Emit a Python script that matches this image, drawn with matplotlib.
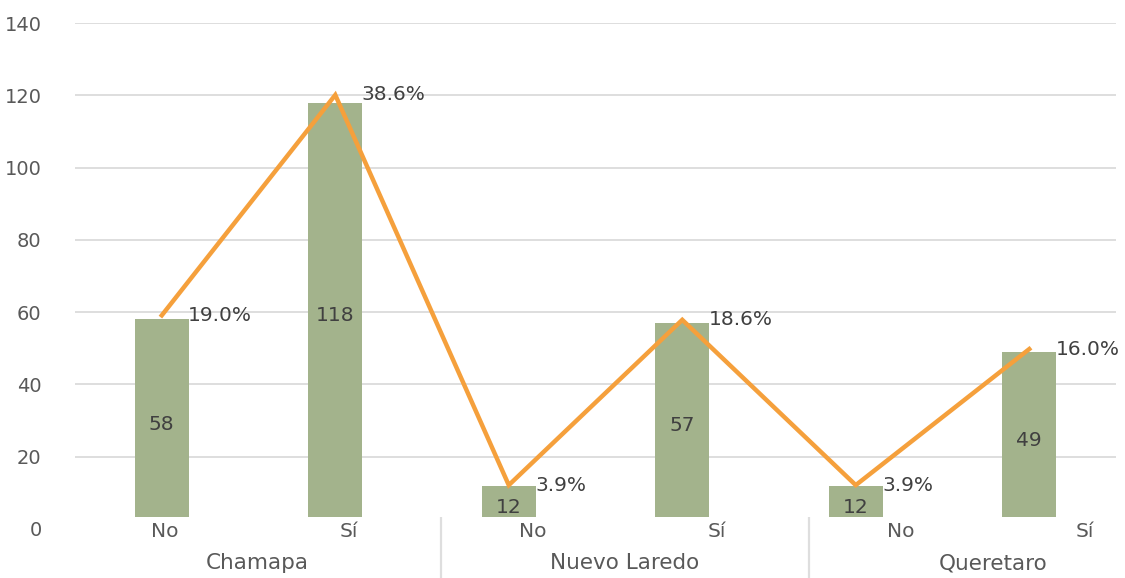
import matplotlib
matplotlib.use("Agg")
import matplotlib.pyplot as plt
import numpy as np

# counts per answer and share of total, grouped by site
groups = ["Chamapa", "Nuevo Laredo", "Queretaro"]
answers = ["No", "Sí", "No", "Sí", "No", "Sí"]
counts = [58, 118, 12, 57, 12, 49]
shares = [19.0, 38.6, 3.9, 18.6, 3.9, 16.0]

bar_color = "#A3B38C"
line_color = "#F5A03C"
text_gray = "#595959"
grid_gray = "#DEDEDE"

plt.rcParams.update({
    "font.family": ["DejaVu Sans"],
    "font.size": 12,
})

fig = plt.figure(figsize=(11.25, 5.78), dpi=100)

ax = fig.add_axes([0.0667, 0.0848, 0.9253, 0.8754])
x = np.arange(len(counts))

bars = ax.bar(x, counts, width=0.31, color=bar_color, zorder=2)
ax.set_xlim(-0.5, len(counts) - 0.5)
ax.set_ylim(0, 140)
ax.set_yticks(np.arange(0, 141, 20))
ax.tick_params(axis="y", length=0, labelsize=14, labelcolor=text_gray, pad=24)
ax.tick_params(axis="x", length=0, labelbottom=False)
ax.grid(axis="y", color=grid_gray, linewidth=1.4, zorder=0)
ax.set_axisbelow(True)
for s in ax.spines.values():
    s.set_visible(False)

for b, c in zip(bars, counts):
    ax.text(b.get_x() + b.get_width() / 2, c / 2, str(c), ha="center", va="center",
            fontsize=14.5, color="#404040", zorder=3)

# percentages on a hidden secondary scale
ax2 = ax.twinx()
ax2.set_ylim(0, 45)
ax2.plot(x, shares, color=line_color, linewidth=3.2, solid_joinstyle="miter", zorder=4)
ax2.set_yticks([])
for s in ax2.spines.values():
    s.set_visible(False)
for xi, p in zip(x, shares):
    ax2.annotate(f"{p:.1f}%", (xi, p), xytext=(19, 0), textcoords="offset points",
                 ha="left", va="center", fontsize=14.5, color="#404040")

# category strip below the plot
lab = fig.add_axes([0.0667, 0.0, 0.9253, 0.1055])
lab.set_facecolor("white")
lab.set_xlim(-0.489, 5.168)
lab.set_ylim(0, 1)
lab.set_xticks([])
lab.set_yticks([])
for s in lab.spines.values():
    s.set_visible(False)
for i, a in enumerate(answers):
    lab.text(i, 0.76, a, ha="center", va="center", fontsize=14.5, color=text_gray)
for g, name in enumerate(groups):
    lab.text(2 * g + 0.5, 0.24, name, ha="center", va="center", fontsize=15.5,
             color=text_gray)
for sep in [1.5, 3.5]:
    lab.axvline(sep, 0, 0.98, color=grid_gray, linewidth=1.6)

fig.savefig("out.png", dpi=100, facecolor="white")
